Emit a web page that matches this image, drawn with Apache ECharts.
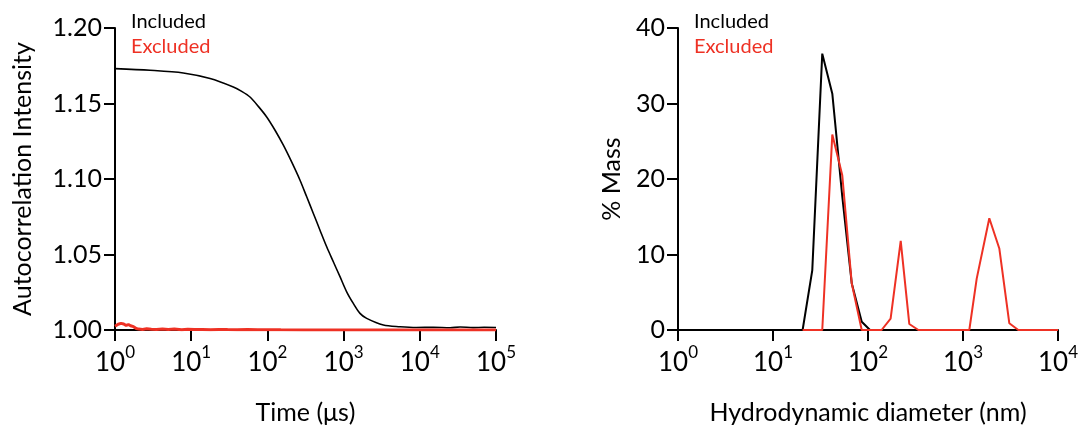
<!DOCTYPE html>
<html>
<head>
<meta charset="utf-8">
<title>DLS autocorrelation and size distribution</title>
<script src="https://cdn.jsdelivr.net/npm/echarts@6.0.0/dist/echarts.min.js"></script>
<style>
  html, body { margin: 0; padding: 0; background: #fff; }
  #chart { width: 1084px; height: 437px; }
</style>
</head>
<body>
<div id="chart"></div>
<script>
// left panel: autocorrelation vs time (us)
var timeIncluded = [1, 2.88, 7.88, 17.7, 35.7, 46, 59.1, 76, 97.9, 126, 162, 208, 268, 328, 401, 490, 600, 733, 897, 1097, 1341, 1641, 2009, 3322, 5495, 9000, 15100, 25000, 33700, 50000, 70000, 100000]
var acIncluded = [1.1731, 1.1720, 1.1702, 1.1665, 1.1609, 1.1580, 1.1543, 1.1481, 1.1411, 1.1323, 1.1224, 1.1113, 1.0992, 1.0882, 1.0772, 1.0661, 1.0551, 1.0452, 1.0353, 1.0253, 1.0176, 1.0110, 1.0077, 1.0033, 1.0022, 1.0017, 1.0018, 1.0015, 1.0020, 1.0016, 1.0018, 1.0017]

var timeExcluded = [1, 1.1, 1.2, 1.3, 1.4, 1.5, 1.6, 1.75, 1.9, 2.05, 2.3, 2.6, 3, 3.5, 4.2, 5, 6, 7.5, 9, 11, 14, 18, 23, 30, 40, 55, 75, 100, 150, 300, 1000, 10000, 100000]
var acExcluded = [1.0025, 1.0038, 1.0044, 1.0040, 1.0030, 1.0036, 1.0028, 1.0022, 1.0010, 1.0006, 1.0004, 1.0008, 1.0005, 1.0003, 1.0007, 1.0004, 1.0006, 1.0002, 1.0005, 1.0003, 1.0004, 1.0002, 1.0004, 1.0003, 1.0002, 1.0003, 1.0001, 1.0002, 1.0001, 1.0, 1.0, 1.0, 1.0]

// right panel: % mass vs hydrodynamic diameter (nm)
var sizeIncluded = [1, 20.5, 25.9, 33.0, 42.1, 53.6, 67.4, 85.9, 105, 10000]
var massIncluded = [0, 0, 7.9, 36.6, 31.3, 17.7, 6.2, 1.1, 0, 0]

var sizeExcluded = [20.5, 25.9, 33.0, 42.1, 53.6, 67.4, 85.9, 105, 139, 173, 221, 272, 339, 1165, 1394, 1892, 2411, 3072, 3820, 10000]
var massExcluded = [0, 0, 0, 25.9, 20.5, 6.2, 0, 0, 0, 1.5, 11.8, 0.8, 0, 0, 6.8, 14.8, 10.8, 0.9, 0, 0]

var seriesNames = ['Included', 'Excluded']
var black = '#000000'
var red = '#ee3124'
var font = 'Lato, "Open Sans", sans-serif'

function pairs(xs, ys) {
  return xs.map(function (x, i) { return [x, ys[i]] })
}

function powerLabel(v) {
  var e = Math.round(Math.log10(v))
  return '{b|10}{s|' + e + '}'
}

var axisLine = { lineStyle: { color: black, width: 2 } }
var axisTick = { length: 11, lineStyle: { color: black, width: 2 } }

function logAxis(idx, max, name) {
  return {
    type: 'log',
    logBase: 10,
    gridIndex: idx,
    min: 1,
    max: max,
    interval: 1,
    name: name,
    nameLocation: 'middle',
    nameGap: 70,
    nameTextStyle: { fontFamily: font, fontSize: 25, color: black },
    axisLine: axisLine,
    axisTick: axisTick,
    minorTick: { show: false },
    splitLine: { show: false },
    axisLabel: {
      margin: 14,
      formatter: powerLabel,
      color: black,
      rich: {
        b: { fontFamily: font, fontSize: 26, color: black, lineHeight: 32, verticalAlign: 'bottom' },
        s: { fontFamily: font, fontSize: 17, color: black, lineHeight: 32, verticalAlign: 'top' }
      }
    }
  }
}

function legend(left) {
  return {
    orient: 'vertical',
    left: left,
    top: 7,
    itemWidth: 0,
    itemHeight: 0,
    itemGap: 5,
    icon: 'none',
    selectedMode: false,
    textStyle: { fontFamily: font, fontSize: 20 },
    data: [
      { name: seriesNames[0], textStyle: { color: black } },
      { name: seriesNames[1], textStyle: { color: red } }
    ]
  }
}

var chart = echarts.init(document.getElementById('chart'))
chart.setOption({
  animation: false,
  backgroundColor: '#fff',
  legend: [legend(121), legend(684)],
  grid: [
    { left: 115, top: 28, width: 381, height: 302 },
    { left: 678, top: 28, width: 380, height: 302 }
  ],
  xAxis: [
    logAxis(0, 100000, 'Time (μs)'),
    logAxis(1, 10000, 'Hydrodynamic diameter (nm)')
  ],
  yAxis: [
    {
      type: 'value',
      gridIndex: 0,
      min: 1,
      max: 1.2,
      interval: 0.05,
      name: 'Autocorrelation Intensity',
      nameLocation: 'middle',
      nameGap: 80,
      nameTextStyle: { fontFamily: font, fontSize: 25, color: black },
      axisLine: { show: true, lineStyle: { color: black, width: 2 } },
      axisTick: { show: true, length: 11, lineStyle: { color: black, width: 2 } },
      splitLine: { show: false },
      axisLabel: {
        margin: 13,
        fontFamily: font,
        fontSize: 25,
        color: black,
        formatter: function (v) { return v.toFixed(2) }
      }
    },
    {
      type: 'value',
      gridIndex: 1,
      min: 0,
      max: 40,
      interval: 10,
      name: '% Mass',
      nameLocation: 'middle',
      nameGap: 54,
      nameTextStyle: { fontFamily: font, fontSize: 25, color: black },
      axisLine: { show: true, lineStyle: { color: black, width: 2 } },
      axisTick: { show: true, length: 11, lineStyle: { color: black, width: 2 } },
      splitLine: { show: false },
      axisLabel: { margin: 13, fontFamily: font, fontSize: 25, color: black }
    }
  ],
  series: [
    {
      name: seriesNames[0],
      type: 'line',
      xAxisIndex: 0,
      yAxisIndex: 0,
      data: pairs(timeIncluded, acIncluded),
      smooth: 0.3,
      showSymbol: false,
      color: black,
      lineStyle: { color: black, width: 1.6 },
      z: 3
    },
    {
      name: seriesNames[1],
      type: 'line',
      xAxisIndex: 0,
      yAxisIndex: 0,
      data: pairs(timeExcluded, acExcluded),
      showSymbol: false,
      color: red,
      lineStyle: { color: red, width: 3 },
      z: 4
    },
    {
      name: seriesNames[0],
      type: 'line',
      xAxisIndex: 1,
      yAxisIndex: 1,
      data: pairs(sizeIncluded, massIncluded),
      showSymbol: false,
      color: black,
      lineStyle: { color: black, width: 2 },
      z: 3
    },
    {
      name: seriesNames[1],
      type: 'line',
      xAxisIndex: 1,
      yAxisIndex: 1,
      data: pairs(sizeExcluded, massExcluded),
      showSymbol: false,
      color: red,
      lineStyle: { color: red, width: 2 },
      z: 4
    }
  ]
})
</script>
</body>
</html>
